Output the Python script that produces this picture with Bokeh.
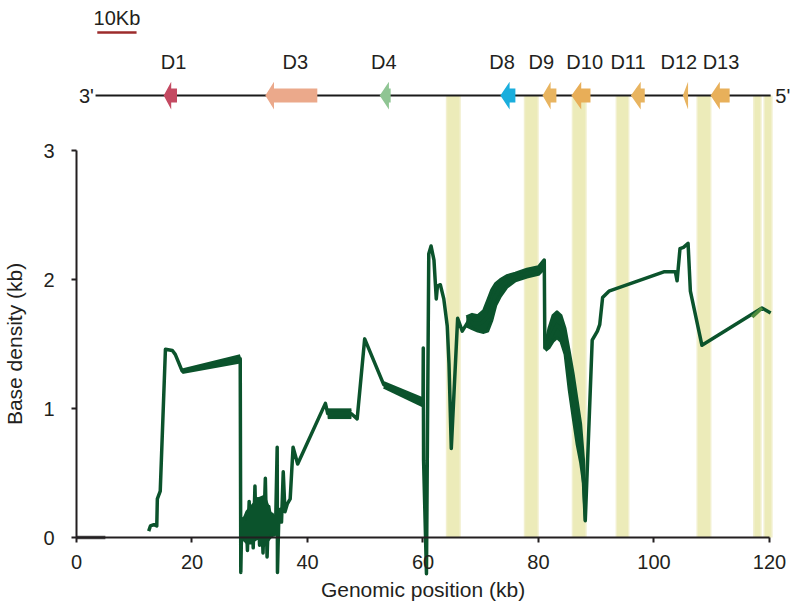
from bokeh.plotting import figure
from bokeh.models import Range1d, FixedTicker
from bokeh.embed import file_html
from bokeh.resources import INLINE
from bokeh.core.properties import value

# ---------------- data ----------------
x_ticks = [0, 20, 40, 60, 80, 100, 120]
y_ticks = [0, 1, 2, 3]

pos = [12.5, 12.8, 13.4, 13.9, 14.0, 14.5, 15.4, 16.6, 17.1, 18.3, 28.35, 28.45,
       28.6, 28.8, 29.0, 29.2, 29.4, 29.6, 29.9, 30.1, 30.4, 30.6, 30.9, 31.1,
       31.4, 31.7, 32.0, 32.3, 32.7, 33.0, 33.3, 33.6, 33.9, 34.2, 34.5, 34.75,
       34.8, 35.0, 35.3, 35.5, 35.8, 36.1, 36.5, 37.0, 37.5, 38.3, 43.1, 43.5,
       47.6, 48.6, 49.9, 53.2, 60.0, 60.05, 60.1, 60.6, 61.0, 61.4, 61.9, 62.3,
       62.5, 63.0, 63.6, 64.2, 64.5, 64.9, 66.0, 66.8, 67.9, 68.7, 70.0, 71.4,
       72.4, 73.4, 74.8, 76.3, 78.3, 80.3, 81.0, 81.1, 81.5, 83.2, 84.4, 85.5,
       86.4, 87.6, 88.1, 89.3, 90.2, 90.6, 91.1, 92.2, 101.7, 103.7, 104.0, 104.5,
       105.1, 105.9, 106.3, 108.3, 118.7, 120.2]
density = [0.05, 0.09, 0.10, 0.09, 0.30, 0.36, 1.46, 1.45, 1.42, 1.29, 1.385, -0.27,
           0.10, 0.00, 0.15, -0.02, 0.12, -0.10, 0.28, -0.04, 0.22, -0.08, 0.40, 0.02,
           0.30, -0.06, 0.25, -0.12, 0.46, -0.15, 0.24, 0.04, 0.18, 0.02, 0.14, 0.70,
           -0.27, 0.10, 0.22, 0.12, 0.51, 0.20, 0.26, 0.30, 0.70, 0.57, 1.04, 0.96,
           0.96, 0.92, 1.54, 1.185, 1.045, 1.47, 0.60, -0.28, 2.20, 2.26, 2.15, 1.85,
           1.95, 1.96, 1.85, 1.64, 1.35, 0.69, 1.70, 1.60, 1.68, 1.66, 1.66, 1.72,
           1.86, 1.94, 1.995, 2.025, 2.05, 2.075, 2.15, 1.47, 1.50, 1.65, 1.58, 1.25,
           0.98, 0.62, 0.13, 1.53, 1.60, 1.65, 1.86, 1.91, 2.06, 2.06, 1.99, 2.24,
           2.25, 2.28, 1.91, 1.49, 1.78, 1.74]

# spread (lower / upper envelope) where the trace is wide
band_a_x = [18.3, 28.35]
band_a_lo = [1.28, 1.36]
band_a_hi = [1.30, 1.41]
band_b_x = [43.5, 47.6]
band_b_lo = [0.93, 0.93]
band_b_hi = [0.99, 0.99]
band_c_x = [53.2, 60.0]
band_c_lo = [1.165, 1.02]
band_c_hi = [1.20, 1.075]
band_d_x = [67.5, 68.5, 69.5, 70.5, 71.2, 71.9, 72.6, 73.4, 74.5, 76.0, 78.0, 80.0, 80.9]
band_d_lo = [1.64, 1.62, 1.60, 1.59, 1.60, 1.68, 1.80, 1.87, 1.94, 1.99, 2.02, 2.04, 2.08]
band_d_hi = [1.71, 1.73, 1.72, 1.76, 1.84, 1.92, 1.97, 2.00, 2.03, 2.05, 2.08, 2.10, 2.15]
band_e_x = [81.2, 81.8, 82.5, 83.2, 83.9, 84.6, 85.3, 86.0, 86.7, 87.3, 87.8, 88.1]
band_e_lo = [1.45, 1.47, 1.52, 1.55, 1.52, 1.42, 1.15, 0.93, 0.72, 0.58, 0.42, 0.13]
band_e_hi = [1.50, 1.62, 1.72, 1.75, 1.72, 1.62, 1.45, 1.27, 1.06, 0.88, 0.60, 0.20]
band_f_x = [28.6, 29.5, 30.5, 31.5, 32.5, 33.5, 34.3]
band_f_lo = [0.00, -0.04, -0.03, 0.00, -0.06, 0.00, 0.03]
band_f_hi = [0.10, 0.20, 0.25, 0.30, 0.32, 0.20, 0.12]

zero_x = [0, 5]
zero_y = [0, 0]
light_x = [117.0, 118.7]
light_y = [1.71, 1.78]

# highlighted regions (kb)
region_left = [64.2, 77.7, 86.0, 93.6, 107.6, 117.4, 119.2]
region_right = [66.3, 79.8, 88.1, 95.5, 109.7, 118.4, 120.3]

# gene track
track_y = 3.426
track_start = 3.3
track_end = 120.2
gene_names = ["D1", "D3", "D4", "D8", "D9", "D10", "D11", "D12", "D13"]
gene_tip = [15.1, 32.7, 52.5, 73.4, 80.7, 85.7, 96.0, 105.0, 109.8]
gene_head = [16.4, 34.2, 54.1, 75.0, 82.1, 87.4, 97.7, 105.9, 111.4]
gene_end = [17.4, 41.7, 54.4, 76.0, 83.1, 89.0, 98.4, 105.9, 113.1]
gene_colors = ["#c44a62", "#eba98b", "#8fc593", "#1aaedd", "#e8b460",
               "#e8ae58", "#e8b460", "#e8b460", "#e8b05a"]
gene_label_x = [16.8, 37.9, 53.2, 73.7, 80.5, 88.0, 95.5, 104.3, 111.6]
gene_label_y = 3.685
scale_x = [3.6, 10.4]
scale_y = 3.915
scale_label_y = 4.03

# ---------------- figure ----------------
FONT = "Liberation Sans"
TXT = "#231f20"
GREEN = "#0b532c"

p = figure(width=810, height=612, x_range=Range1d(-13.16, 127.1),
           y_range=Range1d(-0.581, 4.163), output_backend="svg",
           toolbar_location=None, min_border=0)
p.min_border_left = p.min_border_right = p.min_border_top = p.min_border_bottom = 0
p.outline_line_color = None
p.grid.visible = False

# highlight bands
p.quad(left=[l - 0.25 for l in region_left], right=[r + 0.25 for r in region_right],
       bottom=0, top=track_y, fill_color="#f2f0cf", line_color=None)
p.quad(left=region_left, right=region_right, bottom=0, top=track_y,
       fill_color="#ecebb9", line_color=None)

# zero-density stretch
p.line(zero_x, zero_y, line_color="#555555", line_width=3.5)

# envelopes
for bx, blo, bhi in [(band_a_x, band_a_lo, band_a_hi), (band_b_x, band_b_lo, band_b_hi),
                     (band_c_x, band_c_lo, band_c_hi), (band_d_x, band_d_lo, band_d_hi),
                     (band_e_x, band_e_lo, band_e_hi), (band_f_x, band_f_lo, band_f_hi)]:
    p.varea(x=bx, y1=blo, y2=bhi, fill_color=GREEN)
    p.line(bx, blo, line_color=GREEN, line_width=3, line_join="round")
    p.line(bx, bhi, line_color=GREEN, line_width=3, line_join="round")

p.line(pos, density, line_color=GREEN, line_width=3.5, line_join="round")
p.line(light_x, light_y, line_color="#4f8c3c", line_width=3.5)

# gene track
p.line([track_start, track_end], [track_y, track_y], line_color="#1a1a1a", line_width=2)
HH, BH = 0.108, 0.054
xs, ys = [], []
for t, h, e in zip(gene_tip, gene_head, gene_end):
    xs.append([t, h, h, e, e, h, h])
    ys.append([track_y, track_y + HH, track_y + BH, track_y + BH,
               track_y - BH, track_y - BH, track_y - HH])
p.patches(xs, ys, fill_color=gene_colors, line_color=None)
p.text(x=gene_label_x, y=[gene_label_y] * len(gene_names), text=gene_names,
       text_font=value(FONT), text_font_size="20px", text_color=TXT,
       text_align="center", text_baseline="middle")
p.text(x=[track_start - 0.3], y=[track_y], text=["3'"], text_font=value(FONT),
       text_font_size="20px", text_color=TXT, text_align="right", text_baseline="middle")
p.text(x=[track_end + 0.8], y=[track_y], text=["5'"], text_font=value(FONT),
       text_font_size="20px", text_color=TXT, text_align="left", text_baseline="middle")

# scale bar
p.line(scale_x, [scale_y, scale_y], line_color="#9c2b2b", line_width=2.5)
p.text(x=[(scale_x[0] + scale_x[1]) / 2], y=[scale_label_y], text=["10Kb"],
       text_font=value(FONT), text_font_size="20px", text_color=TXT,
       text_align="center", text_baseline="middle")

# axes
for ax in (p.xaxis, p.yaxis):
    ax.axis_line_width = 2
    ax.axis_line_color = TXT
    ax.major_tick_line_width = 2
    ax.major_tick_line_color = TXT
    ax.major_tick_in = 0
    ax.major_tick_out = 5
    ax.minor_tick_in = 0
    ax.minor_tick_out = 0
    ax.major_label_text_font = FONT
    ax.major_label_text_font_size = "20px"
    ax.major_label_text_color = TXT
    ax.axis_label_text_font = FONT
    ax.axis_label_text_font_size = "21px"
    ax.axis_label_text_font_style = "normal"
    ax.axis_label_text_color = TXT

p.xaxis.fixed_location = 0
p.yaxis.fixed_location = 0
p.xaxis.bounds = (0, 120)
p.yaxis.bounds = (0, 3)
p.xaxis.ticker = FixedTicker(ticks=x_ticks)
p.yaxis.ticker = FixedTicker(ticks=y_ticks)
p.xaxis.axis_label = "Genomic position (kb)"
p.yaxis.axis_label = "Base density (kb)"
p.xaxis.major_label_standoff = 12
p.yaxis.major_label_standoff = 17
p.xaxis.axis_label_standoff = 6
p.yaxis.axis_label_standoff = 14
p.yaxis.major_label_orientation = "horizontal"

open("out.html", "w").write(file_html(p, INLINE))
